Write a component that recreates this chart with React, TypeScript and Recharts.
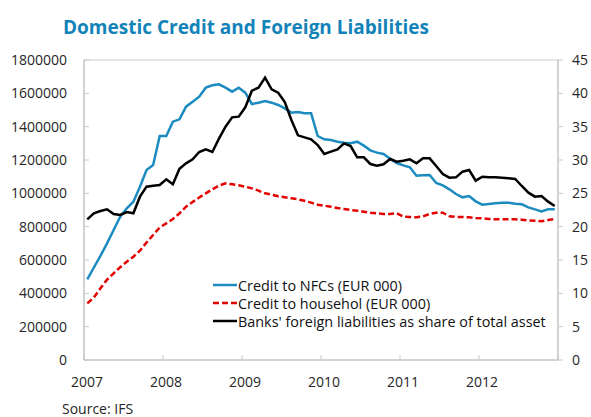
import React from "react";
import { ComposedChart, Line, XAxis, YAxis, Legend, ReferenceLine } from "recharts";

const years = ["2007", "2008", "2009", "2010", "2011", "2012"];

// Credit to NFCs (EUR 000), monthly Jan 2007 - Dec 2012
const creditNFC = [
  484000, 555000, 625000, 700000, 780000, 860000, 910000, 950000, 1040000, 1140000, 1170000, 1344000,
  1344000, 1430000, 1444000, 1520000, 1550000, 1580000, 1634000, 1648000, 1654000, 1634000, 1610000, 1634000,
  1604000, 1536000, 1544000, 1554000, 1544000, 1530000, 1510000, 1484000, 1488000, 1480000, 1480000, 1344000,
  1324000, 1320000, 1310000, 1304000, 1300000, 1310000, 1286000, 1258000, 1244000, 1236000, 1208000, 1182000,
  1168000, 1156000, 1106000, 1108000, 1110000, 1062000, 1048000, 1024000, 996000, 976000, 984000, 952000,
  932000, 936000, 940000, 944000, 944000, 938000, 934000, 916000, 904000, 892000, 904000, 904000,
];

// Credit to househol (EUR 000)
const creditHousehold = [
  340000, 375000, 430000, 482000, 520000, 557000, 590000, 620000, 656000, 705000, 750000, 795000,
  820000, 846000, 880000, 920000, 948000, 975000, 1000000, 1024000, 1046000, 1060000, 1054000, 1048000,
  1040000, 1030000, 1016000, 1000000, 992000, 982000, 976000, 970000, 964000, 955000, 944000, 932000,
  926000, 920000, 912000, 906000, 900000, 896000, 890000, 884000, 880000, 876000, 876000, 880000,
  860000, 858000, 856000, 862000, 876000, 884000, 884000, 862000, 858000, 858000, 856000, 852000,
  850000, 846000, 844000, 844000, 844000, 844000, 842000, 838000, 836000, 832000, 840000, 846000,
];

// Banks' foreign liabilities as share of total asset (%)
const foreignLiab = [
  21.1, 22.0, 22.35, 22.6, 21.9, 21.75, 22.2, 22.0, 24.5, 26.0, 26.15, 26.25,
  27.1, 26.35, 28.7, 29.5, 30.1, 31.2, 31.6, 31.2, 33.2, 35.0, 36.4, 36.5,
  37.9, 40.4, 40.85, 42.35, 40.6, 40.1, 38.7, 36.0, 33.7, 33.4, 33.1, 32.25,
  30.9, 31.25, 31.6, 32.5, 32.1, 30.4, 30.4, 29.4, 29.15, 29.35, 30.15, 29.75,
  29.9, 30.1, 29.5, 30.25, 30.25, 29.1, 27.9, 27.35, 27.4, 28.25, 28.5, 26.9,
  27.5, 27.4, 27.4, 27.35, 27.25, 27.15, 26.1, 25.1, 24.5, 24.6, 23.75, 23.1,
];

const leftTicks = [0, 200000, 400000, 600000, 800000, 1000000, 1200000, 1400000, 1600000, 1800000];
const rightTicks = [0, 5, 10, 15, 20, 25, 30, 35, 40, 45];
const xTicks = [0, 12, 24, 36, 48, 60, 72];

const data = creditNFC.map((v, i) => ({
  t: i + 0.5,
  nfc: v,
  hh: creditHousehold[i],
  fl: foreignLiab[i],
}));

const FONT = "'Open Sans', 'Noto Sans', sans-serif";
const TEXT = "#262626";
const AXIS = "#A6A6A6";
const TICK = "#C8C8C8";
const BLUE = "#1B8BC0";
const RED = "#E50000";

const BottomTick = (props: any) => {
  const { x, y, payload } = props;
  const idx = Math.round(payload.value / 12);
  const label = years[idx] ?? "";
  return (
    <g>
      <line x1={x} x2={x} y1={y - 5} y2={y} stroke={TICK} strokeWidth={1} />
      {label ? (
        <text x={x + 3} y={y + 27} textAnchor="middle" fontSize={14} fill={TEXT} fontFamily={FONT}>
          {label}
        </text>
      ) : null}
    </g>
  );
};

const LeftTick = (props: any) => {
  const { x, y, payload } = props;
  return (
    <g>
      <line x1={x} x2={x + 5} y1={y} y2={y} stroke={TICK} strokeWidth={1} />
      <text x={x - 17} y={y} dy="0.36em" textAnchor="end" fontSize={14} fill={TEXT} fontFamily={FONT}>
        {payload.value}
      </text>
    </g>
  );
};

const legendItems = [
  { label: "Credit to NFCs (EUR 000)", color: BLUE, dash: undefined as string | undefined },
  { label: "Credit to househol (EUR 000)", color: RED, dash: "6 3" },
  { label: "Banks' foreign liabilities as share of total asset", color: "#000", dash: undefined },
];

const LegendContent = () => (
  <div style={{ fontFamily: FONT, fontSize: 14.4, color: "#111" }}>
    {legendItems.map((it) => (
      <div key={it.label} style={{ display: "flex", alignItems: "center", height: 18, whiteSpace: "nowrap" }}>
        <svg width={24} height={18} style={{ display: "block" }}>
          <line x1={0} x2={24} y1={9} y2={9} stroke={it.color} strokeWidth={2.5} strokeDasharray={it.dash} />
        </svg>
        <span style={{ marginLeft: 1 }}>{it.label}</span>
      </div>
    ))}
  </div>
);

export default function App() {
  return (
    <div style={{ position: "absolute", left: 0, top: 0, width: 591, height: 417, background: "#fff", fontFamily: FONT }}>
      <div
        style={{
          position: "absolute",
          left: 63,
          top: 12,
          fontSize: 19,
          fontWeight: 700,
          color: "#1283B9",
          whiteSpace: "nowrap",
          lineHeight: "30px",
        }}
      >
        Domestic Credit and Foreign Liabilities
      </div>
      <div style={{ position: "absolute", left: 0, top: 0 }}>
        <ComposedChart width={591} height={417} data={data} margin={{ top: 60, right: 0, bottom: 0, left: 0 }}>
          <XAxis
            dataKey="t"
            type="number"
            domain={[0, 72]}
            ticks={xTicks}
            interval={0}
            tickSize={0}
            tickMargin={0}
            tick={<BottomTick />}
            tickLine={false}
            axisLine={{ stroke: AXIS, strokeWidth: 1 }}
            height={57}
            allowDataOverflow
          />
          <YAxis
            yAxisId="left"
            orientation="left"
            domain={[0, 1800000]}
            ticks={leftTicks}
            interval={0}
            width={84}
            tickSize={0}
            tickMargin={0}
            tick={<LeftTick />}
            tickLine={false}
            axisLine={{ stroke: AXIS, strokeWidth: 1 }}
          />
          <YAxis
            yAxisId="right"
            orientation="right"
            domain={[0, 45]}
            ticks={rightTicks}
            interval={0}
            width={33}
            tickSize={5}
            tickMargin={9}
            tickLine={{ stroke: TICK }}
            axisLine={{ stroke: AXIS, strokeWidth: 1 }}
            tick={{ fontSize: 14, fill: TEXT, fontFamily: FONT, textAnchor: "start" }}
          />
          <ReferenceLine yAxisId="left" y={1800000} stroke="#DCDCDC" strokeWidth={1.5} />
          <Line
            yAxisId="left"
            dataKey="nfc"
            name="Credit to NFCs (EUR 000)"
            type="linear"
            stroke={BLUE}
            strokeWidth={2.5}
            dot={false}
            isAnimationActive={false}
          />
          <Line
            yAxisId="left"
            dataKey="hh"
            name="Credit to househol (EUR 000)"
            type="linear"
            stroke={RED}
            strokeWidth={2.5}
            strokeDasharray="6 3"
            dot={false}
            isAnimationActive={false}
          />
          <Line
            yAxisId="right"
            dataKey="fl"
            name="Banks' foreign liabilities as share of total asset"
            type="linear"
            stroke="#000"
            strokeWidth={2.5}
            dot={false}
            isAnimationActive={false}
          />
          <Legend
            content={<LegendContent />}
            layout="vertical"
            verticalAlign="middle"
            align="center"
            wrapperStyle={{ position: "absolute", left: 213, top: 276, width: "auto", height: "auto" }}
          />
        </ComposedChart>
      </div>
      <div
        style={{
          position: "absolute",
          left: 62,
          top: 399,
          fontSize: 14,
          color: TEXT,
          whiteSpace: "nowrap",
          lineHeight: "20px",
        }}
      >
        Source: IFS
      </div>
    </div>
  );
}
